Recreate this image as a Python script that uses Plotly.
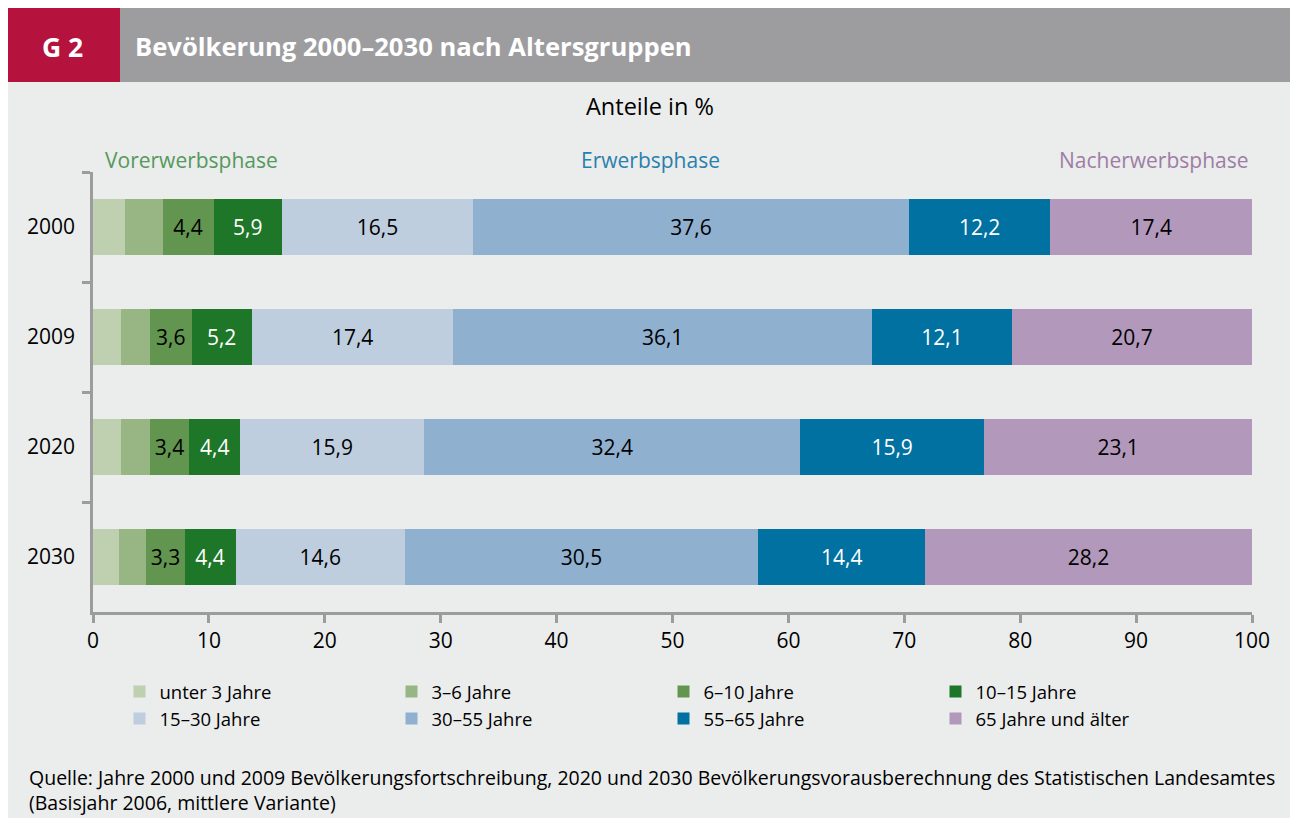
import plotly.graph_objects as go

years = ["2000", "2009", "2020", "2030"]
groups = ["unter 3 Jahre", "3–6 Jahre", "6–10 Jahre", "10–15 Jahre",
          "15–30 Jahre", "30–55 Jahre", "55–65 Jahre", "65 Jahre und älter"]
unter3 = [2.8, 2.4, 2.4, 2.2]
j3_6 = [3.2, 2.5, 2.5, 2.4]
j6_10 = [4.4, 3.6, 3.4, 3.3]
j10_15 = [5.9, 5.2, 4.4, 4.4]
j15_30 = [16.5, 17.4, 15.9, 14.6]
j30_55 = [37.6, 36.1, 32.4, 30.5]
j55_65 = [12.2, 12.1, 15.9, 14.4]
j65plus = [17.4, 20.7, 23.1, 28.2]
series = [unter3, j3_6, j6_10, j10_15, j15_30, j30_55, j55_65, j65plus]
show_label = [False, False, True, True, True, True, True, True]
colors = ["#BFD0B0", "#98B684", "#62954F", "#1E7628",
          "#BECEDE", "#8FB0CF", "#0071A1", "#B298BA"]
text_colors = ["#000", "#000", "#000", "#fff", "#000", "#000", "#fff", "#000"]
x_ticks = [0, 10, 20, 30, 40, 50, 60, 70, 80, 90, 100]

FONT = "Open Sans"
W, H = 1282, 810
L, R, T, B = 85, 1244, 164, 604  # plot area in figure pixels

fig = go.Figure()
for name, vals, col, tc, lab in zip(groups, series, colors, text_colors, show_label):
    fig.add_trace(go.Bar(
        y=years, x=vals, name=name, orientation="h",
        marker=dict(color=col, line=dict(width=0)),
        texttemplate="%{x:.1f}" if lab else "",
        textposition="inside", insidetextanchor="middle", textangle=0,
        textfont=dict(color=tc, size=21, family=FONT),
        hoverinfo="skip",
    ))

def px(x):
    return (x - L) / (R - L)

def py(y):
    return (B - y) / (B - T)

fig.update_layout(
    width=W, height=H,
    barmode="stack", bargap=0.49,
    separators=",.",
    paper_bgcolor="#EBECEC", plot_bgcolor="#EBECEC",
    margin=dict(l=L, r=W - R, t=T, b=H - B, pad=0),
    font=dict(family=FONT, color="#000"),
    uniformtext=dict(minsize=21, mode="show"),
    showlegend=True,
    legend=dict(orientation="h", x=px(111.5), xanchor="left", y=py(665), yanchor="top",
                entrywidth=227, entrywidthmode="pixels", bgcolor="rgba(0,0,0,0)",
                font=dict(size=18.5, family=FONT), traceorder="normal",
                itemclick=False, itemdoubleclick=False, tracegroupgap=0),
    xaxis=dict(range=[0, 100], tickvals=x_ticks, showgrid=False, zeroline=False,
               showline=True, linecolor="#9C9C9C", linewidth=2.5,
               ticks="outside", ticklen=8, tickwidth=2.5, tickcolor="#9C9C9C",
               tickfont=dict(size=21, family=FONT), fixedrange=True),
    yaxis=dict(type="category", autorange="reversed", tickson="boundaries",
               showgrid=False, showline=True, linecolor="#9C9C9C", linewidth=2.5,
               ticks="outside", ticklen=8, tickwidth=2.5, tickcolor="#9C9C9C",
               tickfont=dict(size=21, family=FONT), ticklabelstandoff=11, fixedrange=True),
)

shapes = [
    dict(type="rect", xref="paper", yref="paper", x0=px(-2), x1=px(112),
         y0=py(74), y1=py(-2), fillcolor="#B5123E", line=dict(width=0), layer="below"),
    dict(type="rect", xref="paper", yref="paper", x0=px(112), x1=px(W + 10),
         y0=py(74), y1=py(-2), fillcolor="#9D9D9F", line=dict(width=0), layer="below"),
]
fig.update_layout(shapes=shapes)

ann = [
    dict(text="<b>G 2</b>", x=px(54), y=py(39), xanchor="center", yanchor="middle",
         font=dict(size=26.5, color="white", family=FONT)),
    dict(text="<b>Bevölkerung 2000–2030 nach Altersgruppen</b>", x=px(125), y=py(39),
         xanchor="left", yanchor="middle", font=dict(size=25.6, color="white", family=FONT)),
    dict(text="Anteile in %", x=px(642), y=py(98), xanchor="center", yanchor="middle",
         font=dict(size=23.5, color="#000", family=FONT)),
    dict(text="Vorerwerbsphase", x=px(183), y=py(152), xanchor="center", yanchor="middle",
         font=dict(size=21, color="#55995C", family=FONT)),
    dict(text="Erwerbsphase", x=px(642), y=py(152), xanchor="center", yanchor="middle",
         font=dict(size=21, color="#2A80AD", family=FONT)),
    dict(text="Nacherwerbsphase", x=px(1243), y=py(152), xanchor="right", yanchor="middle",
         font=dict(size=21, color="#9E7DA5", family=FONT)),
    dict(text="Quelle: Jahre 2000 und 2009 Bevölkerungsfortschreibung, 2020 und 2030 Bevölkerungsvorausberechnung des Statistischen Landesamtes<br>(Basisjahr 2006, mittlere Variante)",
         x=px(19), y=py(781.5), xanchor="left", yanchor="middle", align="left",
         font=dict(size=19.5, color="#000", family=FONT)),
]
for a in ann:
    a.update(xref="paper", yref="paper", showarrow=False)
fig.update_layout(annotations=ann)

fig.write_html(
    "out.html",
    post_script=("document.body.style.margin='8px 0 0 8px';"
                 "document.documentElement.style.overflow='hidden';"
                 "document.body.style.overflow='hidden';"),
)
